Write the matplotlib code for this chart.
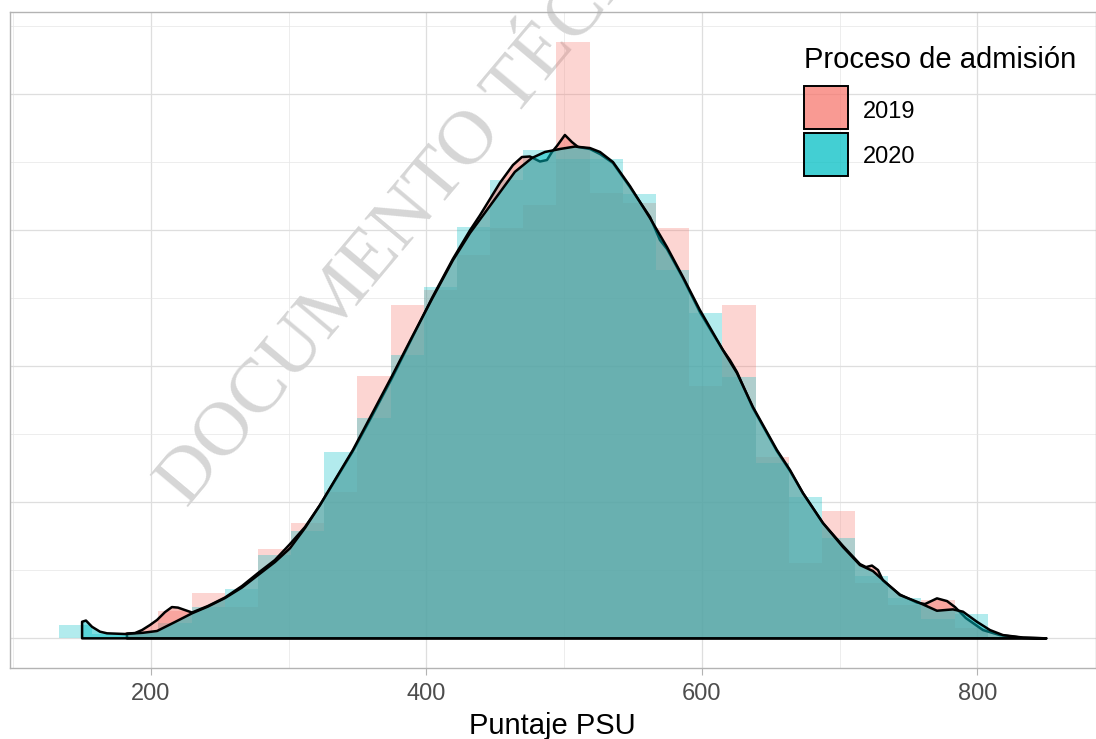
import numpy as np
import matplotlib
matplotlib.use("Agg")
import matplotlib.pyplot as plt
from matplotlib.colors import to_rgba
from matplotlib.patches import Rectangle

plt.rcParams['font.family'] = ['Liberation Sans', 'DejaVu Sans']

# histogram of PSU scores, density (x 1e-3), 28 bins shared by both years
bin_start = 133.2
bin_width = 24.08
hist_2019 = [0, 0, 0.049, 0.201, 0.331, 0.232, 0.654, 0.850, 1.078, 1.929,
             2.451, 2.561, 2.818, 3.015, 3.186, 4.387, 3.272, 3.199, 3.015, 1.855,
             2.451, 1.331, 0.551, 0.936, 0.409, 0.245, 0.282, 0.076]
hist_2020 = [0.098, 0.029, 0.037, 0.110, 0.232, 0.360, 0.613, 0.789, 1.372, 1.618,
             2.081, 2.585, 3.026, 3.370, 3.590, 3.522, 3.522, 3.265, 2.708, 2.394,
             1.924, 1.287, 1.041, 0.740, 0.458, 0.299, 0.140, 0.179]

# kernel density estimates (score, density x 1e-3)
kde_2019_x = [182.6, 188.4, 193.5, 199.3, 204.4, 210.2, 215.2, 219.6, 224.7, 229.8,
              241.4, 253.7, 266.1, 277.7, 290.0, 300.9, 311.8, 322.7, 332.1, 346.6,
              360.4, 375.0, 389.5, 404.0, 419.2, 431.6, 438.8, 446.1, 453.4, 462.8,
              469.3, 475.1, 482.4, 487.5, 491.1, 494.7, 500.5, 505.6, 510.0, 518.7,
              526.0, 535.4, 547.7, 562.3, 569.5, 574.6, 586.2, 598.5, 607.2, 615.2,
              620.3, 625.4, 637.0, 654.4, 663.9, 673.3, 687.8, 702.4, 714.7, 719.1,
              723.4, 727.8, 731.4, 743.7, 756.1, 761.9, 770.6, 777.9, 783.7, 791.6,
              804.0, 816.3, 833.0, 850.0]
kde_2019_y = [0.035, 0.039, 0.061, 0.098, 0.135, 0.193, 0.230, 0.226, 0.208, 0.190,
              0.238, 0.300, 0.385, 0.480, 0.576, 0.693, 0.818, 0.980, 1.135, 1.377,
              1.634, 1.914, 2.208, 2.502, 2.790, 3.000, 3.110, 3.230, 3.350, 3.480,
              3.539, 3.543, 3.506, 3.517, 3.576, 3.620, 3.701, 3.649, 3.613, 3.598,
              3.561, 3.495, 3.318, 3.098, 2.929, 2.863, 2.649, 2.399, 2.252, 2.120,
              2.046, 1.958, 1.693, 1.377, 1.231, 1.068, 0.848, 0.679, 0.546, 0.524,
              0.535, 0.502, 0.425, 0.322, 0.263, 0.252, 0.294, 0.274, 0.230, 0.149,
              0.061, 0.024, 0.004, 0.0]

kde_2020_x = [150.0, 152.8, 157.2, 163.0, 168.1, 181.1, 194.2, 204.4, 217.4, 229.8,
              241.4, 253.7, 266.1, 277.7, 290.0, 300.9, 311.8, 322.7, 332.1, 346.6,
              360.4, 375.0, 389.5, 404.0, 419.2, 431.6, 442.5, 454.8, 464.2, 476.6,
              486.0, 496.9, 507.8, 518.7, 526.0, 535.4, 547.7, 562.3, 574.6, 586.2,
              598.5, 615.2, 625.4, 637.0, 654.4, 663.9, 673.3, 687.8, 702.4, 714.7,
              724.1, 731.4, 743.7, 756.1, 770.6, 782.2, 789.5, 799.6, 809.1, 818.5,
              833.0, 850.0]
kde_2020_y = [0.122, 0.131, 0.085, 0.049, 0.037, 0.032, 0.041, 0.054, 0.120, 0.184,
              0.234, 0.296, 0.374, 0.465, 0.561, 0.662, 0.811, 0.980, 1.140, 1.385,
              1.649, 1.929, 2.215, 2.495, 2.780, 2.980, 3.130, 3.300, 3.430, 3.532,
              3.576, 3.598, 3.616, 3.605, 3.576, 3.502, 3.326, 3.090, 2.877, 2.657,
              2.414, 2.120, 1.951, 1.701, 1.385, 1.238, 1.068, 0.848, 0.671, 0.539,
              0.495, 0.429, 0.318, 0.269, 0.203, 0.213, 0.196, 0.122, 0.061, 0.024,
              0.006, 0.0]

years = ['2019', '2020']
colors = ['#F8766D', '#00BFC4']
hists = [hist_2019, hist_2020]
kdes = [(kde_2019_x, kde_2019_y), (kde_2020_x, kde_2020_y)]

W, H = 1096, 739
fig = plt.figure(figsize=(W / 100, H / 100), dpi=100)
ax = fig.add_axes([9.5 / W, 1 - 668 / H, 1086 / W, 656.5 / H])

edges = bin_start + bin_width * np.arange(len(hist_2019) + 1)
for h, c in zip(hists, colors):
    ax.stairs(h, edges, fill=True, color=c, alpha=0.3, lw=0, zorder=1)

for (kx, ky), c in zip(kdes, colors):
    px = [kx[0]] + kx + [kx[-1]]
    py = [0] + ky + [0]
    ax.fill(px, py, facecolor=to_rgba(c, 0.5), edgecolor='black', lw=1.8,
            joinstyle='round', zorder=2)

ax.set_xlim(97.3, 885.7)
ax.set_ylim(-0.218, 4.609)
ax.set_xticks([200, 400, 600, 800])
ax.set_xticks([100, 300, 500, 700], minor=True)
ax.set_yticks([0, 1, 2, 3, 4])
ax.set_yticks([0.5, 1.5, 2.5, 3.5, 4.5], minor=True)
ax.set_axisbelow(True)
ax.grid(which='major', color='#DEDEDE', lw=0.9)
ax.grid(which='minor', color='#E6E6E6', lw=0.5)
ax.tick_params(axis='y', which='both', length=0, labelleft=False)
ax.tick_params(axis='x', which='minor', length=0)
ax.tick_params(axis='x', which='major', length=5, width=0.8, color='#B3B3B3',
               labelsize=17, labelcolor='#4D4D4D', pad=5.5)
for s in ax.spines.values():
    s.set_color('#B3B3B3')
    s.set_linewidth(1.0)
ax.set_xlabel('Puntaje PSU', fontsize=21, labelpad=5.5)

# watermark
ax.text(458 / W, 1 - 185 / H, 'DOCUMENTO TÉCNICO', transform=fig.transFigure,
        rotation=50, rotation_mode='anchor', ha='center', va='baseline',
        fontsize=55.5, family='Liberation Serif', color='#D6D6D6',
        zorder=0.8, clip_on=False)

# legend drawn by hand
fig.text(804 / W, 1 - 68.3 / H, 'Proceso de admisión', fontsize=21, va='baseline')
key_tops = [86, 132.7]
label_base = [118.3, 163.3]
for yr, c, kt, lb in zip(years, colors, key_tops, label_base):
    fig.add_artist(Rectangle((804 / W, 1 - (kt + 43.3) / H), 43.7 / W, 43.3 / H,
                             transform=fig.transFigure, facecolor=to_rgba(c, 0.3), lw=0))
    fig.add_artist(Rectangle((804 / W, 1 - (kt + 43.3) / H), 43.7 / W, 43.3 / H,
                             transform=fig.transFigure, facecolor=to_rgba(c, 0.62),
                             edgecolor='black', lw=1.4))
    fig.text(863.3 / W, 1 - lb / H, yr, fontsize=17, va='baseline')

fig.savefig('out.png', dpi=100)
